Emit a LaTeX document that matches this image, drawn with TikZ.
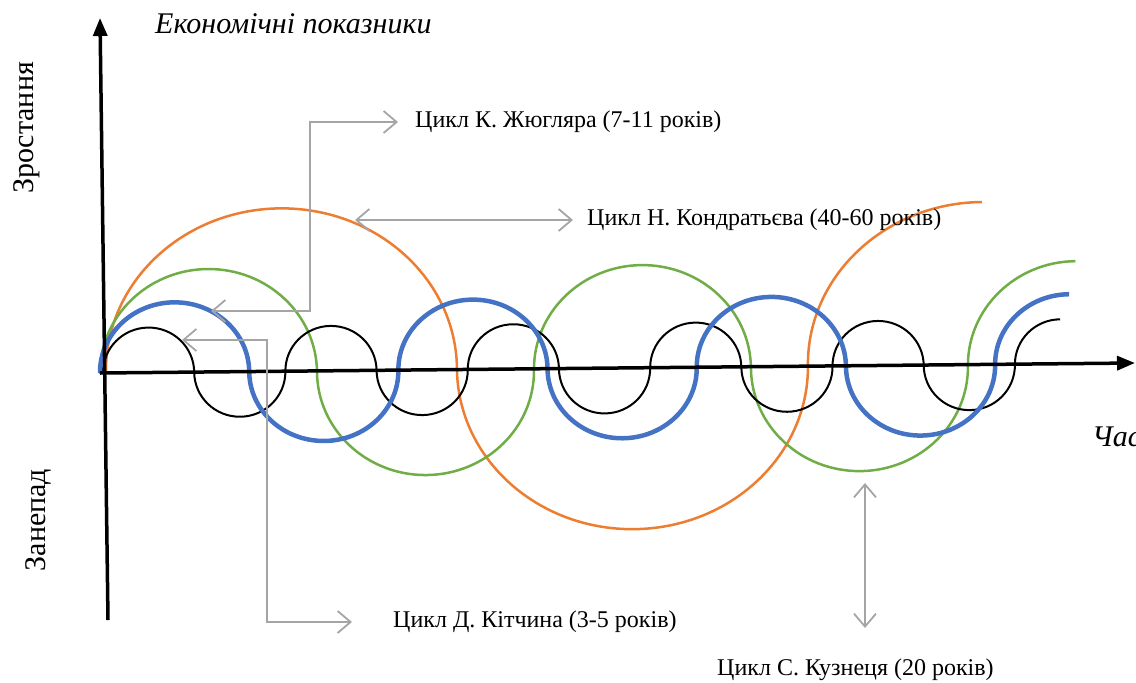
\documentclass[tikz,border=0pt]{standalone}
\usepackage{fontspec}
\setmainfont{Liberation Serif}
\usetikzlibrary{arrows.meta,positioning}

\begin{document}
\begin{tikzpicture}[x=1pt,y=-1pt]
\definecolor{kondratiev}{HTML}{ED7D31}
\definecolor{kuznets}{HTML}{70AD47}
\definecolor{juglar}{HTML}{4472C4}
\definecolor{pointer}{HTML}{A5A5A5}
\tikzset{
     axis/.style={line width=3.5pt, -{Triangle[length=18pt,width=14pt]}},
     wave/.style={line width=2.5pt},
     link/.style={draw=pointer, line width=1.8pt,
        {Straight Barb[length=13pt,width=22pt]}-{Straight Barb[length=13pt,width=22pt]}},
     caption/.style={font=\fontsize{24}{28}\selectfont, inner sep=0pt, anchor=west},
     axislabel/.style={font=\fontsize{30}{34}\selectfont, inner sep=0pt}}

\useasboundingbox (0,0) rectangle (1136,683);

% The cycles
\begin{scope}[rotate around={0.52:(100,373)}]
\draw[wave, kondratiev, x radius=175.5, y radius=162] (106,372)
   arc[start angle=180, end angle=360] arc[start angle=180, end angle=0]
   arc[start angle=180, end angle=270];
\draw[wave, kuznets, x radius=108.5, y radius=104] (100,374)
   \foreach \i in {1,2} {arc[start angle=180, end angle=360] arc[start angle=180, end angle=0]}
   arc[start angle=180, end angle=270];
\draw[line width=2pt, x radius=45.6, y radius=45] (103,373)
   \foreach \i in {1,...,5} {arc[start angle=180, end angle=360] arc[start angle=180, end angle=0]}
   arc[start angle=180, end angle=270];
\draw[wave, juglar, line width=4.5pt, x radius=74.6, y radius=70] (100,373)
   \foreach \i in {1,2,3} {arc[start angle=180, end angle=360] arc[start angle=180, end angle=0]}
   arc[start angle=180, end angle=270];
\end{scope}

% The axes
\coordinate (origin) at (100,373);
\coordinate (y top) at (100,18);
\coordinate (y bottom) at (108,620);
\coordinate (x end) at (1135,363);
\draw[axis] (y bottom) -- (y top);
\draw[axis] (origin) -- (x end);

\node (title) [axislabel, anchor=west] at (155,24) {\itshape Економічні показники};
\node (rise) [axislabel, rotate=90] at (27,128) {Зростання};
\node (fall) [axislabel, rotate=90] at (38,520) {Занепад};
\node (time) [axislabel, anchor=west] at (1092,437) {\itshape Час};

% The labels
\node (juglar label) [caption] at (415,122) {Цикл К. Жюгляра (7-11 років)};
\node (kondratiev label) [caption] at (587,220) {Цикл Н. Кондратьєва (40-60 років)};
\node (kitchin label) [caption] at (393,622) {Цикл Д. Кітчина (3-5 років)};
\node (kuznets label) [caption] at (717,670) {Цикл С. Кузнеця (20 років)};

% The pointers
\coordinate (juglar tip) at (211,311);
\coordinate (juglar bend) at (310,122);
\coordinate (kitchin tip) at (182,340);
\coordinate (kitchin bend) at (267,622);
\coordinate (kondratiev tip) at (355,220);
\coordinate (kuznets top) at (865,483);
\coordinate (kuznets bottom) at (865,628);

\draw[link, shorten >=17pt] (juglar tip) -| (juglar bend) -- (juglar label.west);
\draw[link, shorten >=41pt] (kitchin tip) -| (kitchin bend) -- (kitchin label.west);
\draw[link, shorten >=14pt] (kondratiev tip) -- (kondratiev label.west);
\draw[link] (kuznets top) -- (kuznets bottom);
\end{tikzpicture}
\end{document}
